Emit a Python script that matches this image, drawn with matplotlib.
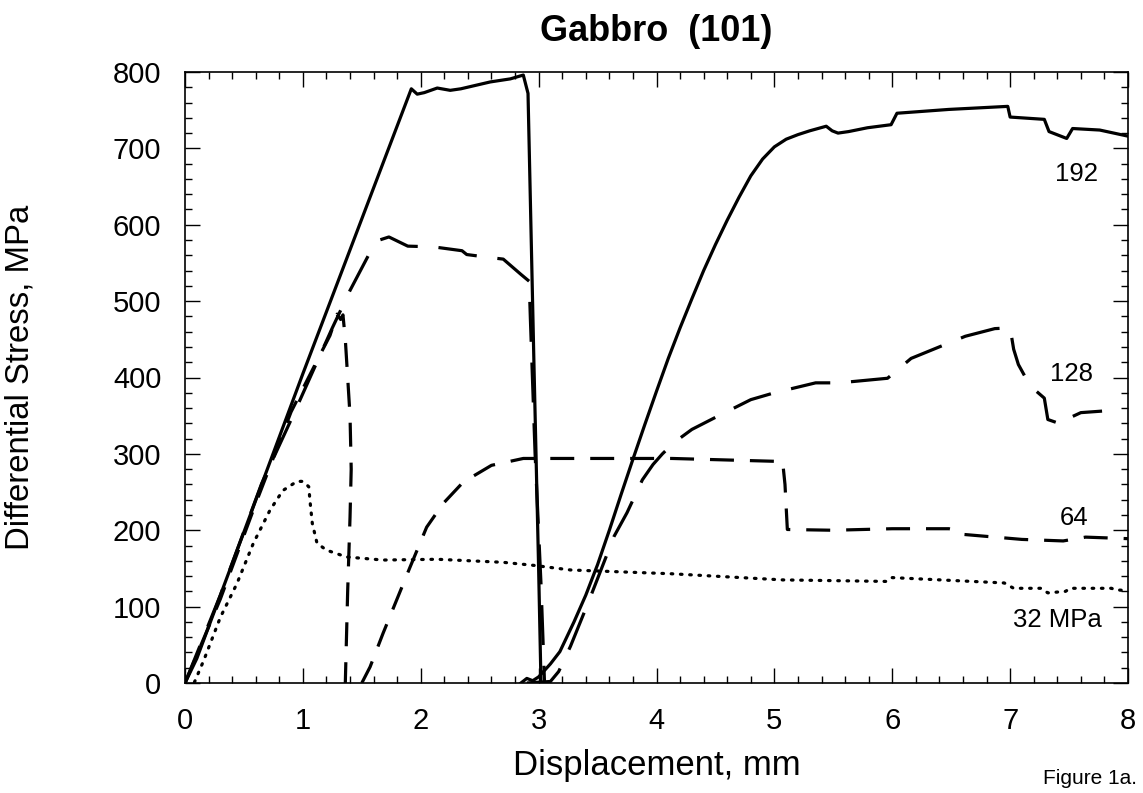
import matplotlib
matplotlib.use("Agg")
import matplotlib.pyplot as plt
from matplotlib.ticker import MultipleLocator

plt.rcParams['font.family'] = ['Liberation Sans', 'DejaVu Sans']

# ---- data (displacement mm, differential stress MPa) ----
x192_a = [0, 0.1, 1.0, 1.92, 1.97, 2.03, 2.14, 2.25, 2.34, 2.59, 2.76, 2.87, 2.91, 2.96, 3.0, 3.02]
y192_a = [0, 32, 405, 778, 771, 773, 779, 776, 778, 787, 791, 796, 772, 420, 150, 0]
x192_b = [2.85, 2.9, 2.95, 3.0, 3.1, 3.18, 3.3, 3.4, 3.5, 3.6, 3.7, 3.8, 3.9, 4.0, 4.1, 4.2, 4.3, 4.4, 4.5, 4.6, 4.7, 4.8, 4.9, 5.0, 5.1, 5.2, 5.3, 5.44, 5.49, 5.54, 5.63, 5.79, 5.99, 6.04, 6.48, 6.98, 7.0, 7.29, 7.33, 7.48, 7.53, 7.76, 8.0]
y192_b = [0, 6, 3, 8, 25, 41, 80, 115, 155, 200, 247, 293, 338, 382, 425, 465, 503, 540, 574, 606, 636, 664, 686, 702, 712, 718, 723, 729, 723, 720, 722, 727, 731, 746, 751, 755, 741, 738, 722, 713, 726, 724, 716]

x128_a = [0, 0.3, 0.65, 0.91, 1.09, 1.25, 1.40, 1.57, 1.65, 1.73, 1.89, 2.11, 2.35, 2.39, 2.59, 2.70, 2.85, 2.92, 2.93, 2.97, 3.02, 3.05]
y128_a = [0, 115, 261, 348, 410, 465, 514, 564, 580, 584, 572, 571, 566, 561, 557, 555, 535, 526, 477, 300, 130, 0]
x128_b = [2.9, 3.1, 3.17, 3.27, 3.42, 3.64, 3.75, 3.88, 3.97, 4.05, 4.15, 4.3, 4.49, 4.8, 5.0, 5.35, 5.55, 5.96, 6.16, 6.62, 6.87, 7.0, 7.03, 7.07, 7.17, 7.29, 7.32, 7.45, 7.53, 7.6, 7.78]
y128_b = [0, 2, 15, 48, 105, 192, 223, 266, 286, 300, 315, 332, 347, 371, 380, 393, 393, 399, 425, 454, 464, 465, 437, 417, 389, 373, 345, 338, 349, 354, 356]

x64_a = [0, 0.3, 0.6, 0.9, 1.15, 1.23, 1.29, 1.32, 1.34, 1.36, 1.38, 1.40, 1.41, 1.40, 1.38, 1.36]
y64_a = [0, 110, 235, 355, 431, 455, 483, 476, 482, 450, 400, 350, 280, 217, 120, 0]
x64_b = [1.5, 1.57, 1.68, 1.91, 2.05, 2.19, 2.36, 2.60, 2.87, 3.04, 3.22, 4.13, 5.07, 5.09, 5.11, 5.5, 6.0, 6.48, 6.51, 6.57, 7.1, 7.45, 7.64, 8.0]
y64_b = [0, 21, 65, 152, 204, 235, 263, 285, 294, 294, 294, 294, 290, 260, 201, 200, 202, 202, 201, 195, 188, 186, 191, 189]

x32 = [0.08, 0.16, 0.30, 0.44, 0.58, 0.72, 0.83, 0.95, 1.0, 1.05, 1.06, 1.08, 1.12, 1.2, 1.37, 1.68, 2.14, 2.70, 2.96, 3.27, 4.13, 5.07, 5.95, 6.0, 6.95, 7.03, 7.26, 7.32, 7.47, 7.51, 7.86, 7.89, 8.0]
y32 = [1, 30, 86, 130, 183, 226, 252, 264, 264, 257, 239, 209, 183, 174, 165, 161, 162, 158, 154, 148, 143, 135, 133, 138, 131, 124, 124, 118, 120, 124, 124, 122, 121]

labels = ['192', '128', '64', '32 MPa']
label_x = [7.56, 7.52, 7.54, 7.40]
label_y = [666, 404, 216, 83]

fig = plt.figure(figsize=(11.43, 7.93), dpi=100)
ax = fig.add_axes([185/1143, 1 - 683/793, (1128-185)/1143, (683-72)/793])

lw = 2.3
ax.plot(x192_a, y192_a, color='black', lw=lw, solid_joinstyle='round')
ax.plot(x192_b, y192_b, color='black', lw=lw, solid_joinstyle='round')
ax.plot(x128_a, y128_a, color='black', lw=lw, dashes=(12.5, 6.5))
ax.plot(x128_b, y128_b, color='black', lw=lw, dashes=(12.5, 6.5))
ax.plot(x64_a, y64_a, color='black', lw=lw, dashes=(7.5, 5))
ax.plot(x64_b, y64_b, color='black', lw=lw, dashes=(7.5, 5))
ax.plot(x32, y32, color='black', lw=lw, dashes=(0.5, 2.4), dash_capstyle='round')

for t, lx, ly in zip(labels, label_x, label_y):
    ax.text(lx, ly, t, ha='center', va='center', fontsize=18.5)

ax.set_xlim(0, 8)
ax.set_ylim(0, 800)
ax.xaxis.set_major_locator(MultipleLocator(1))
ax.xaxis.set_minor_locator(MultipleLocator(0.2))
ax.yaxis.set_major_locator(MultipleLocator(100))
ax.yaxis.set_minor_locator(MultipleLocator(20))
ax.tick_params(which='both', direction='in', top=True, right=True, width=1)
ax.tick_params(which='major', length=11, labelsize=21, pad=17)
ax.tick_params(which='minor', length=5)
for s in ax.spines.values():
    s.set_linewidth(1.2)

ax.set_xlabel('Displacement, mm', fontsize=25, labelpad=10)
ax.set_ylabel('Differential Stress, MPa', fontsize=23.7)
ax.yaxis.set_label_coords((36 - 185) / 943, 0.5)
ax.set_title('Gabbro  (101)', fontsize=26, fontweight='bold', pad=22)
fig.text(1137/1143, 1 - 778/793, 'Figure 1a.', ha='right', va='center', fontsize=15)

fig.savefig('out.png', dpi=100)
